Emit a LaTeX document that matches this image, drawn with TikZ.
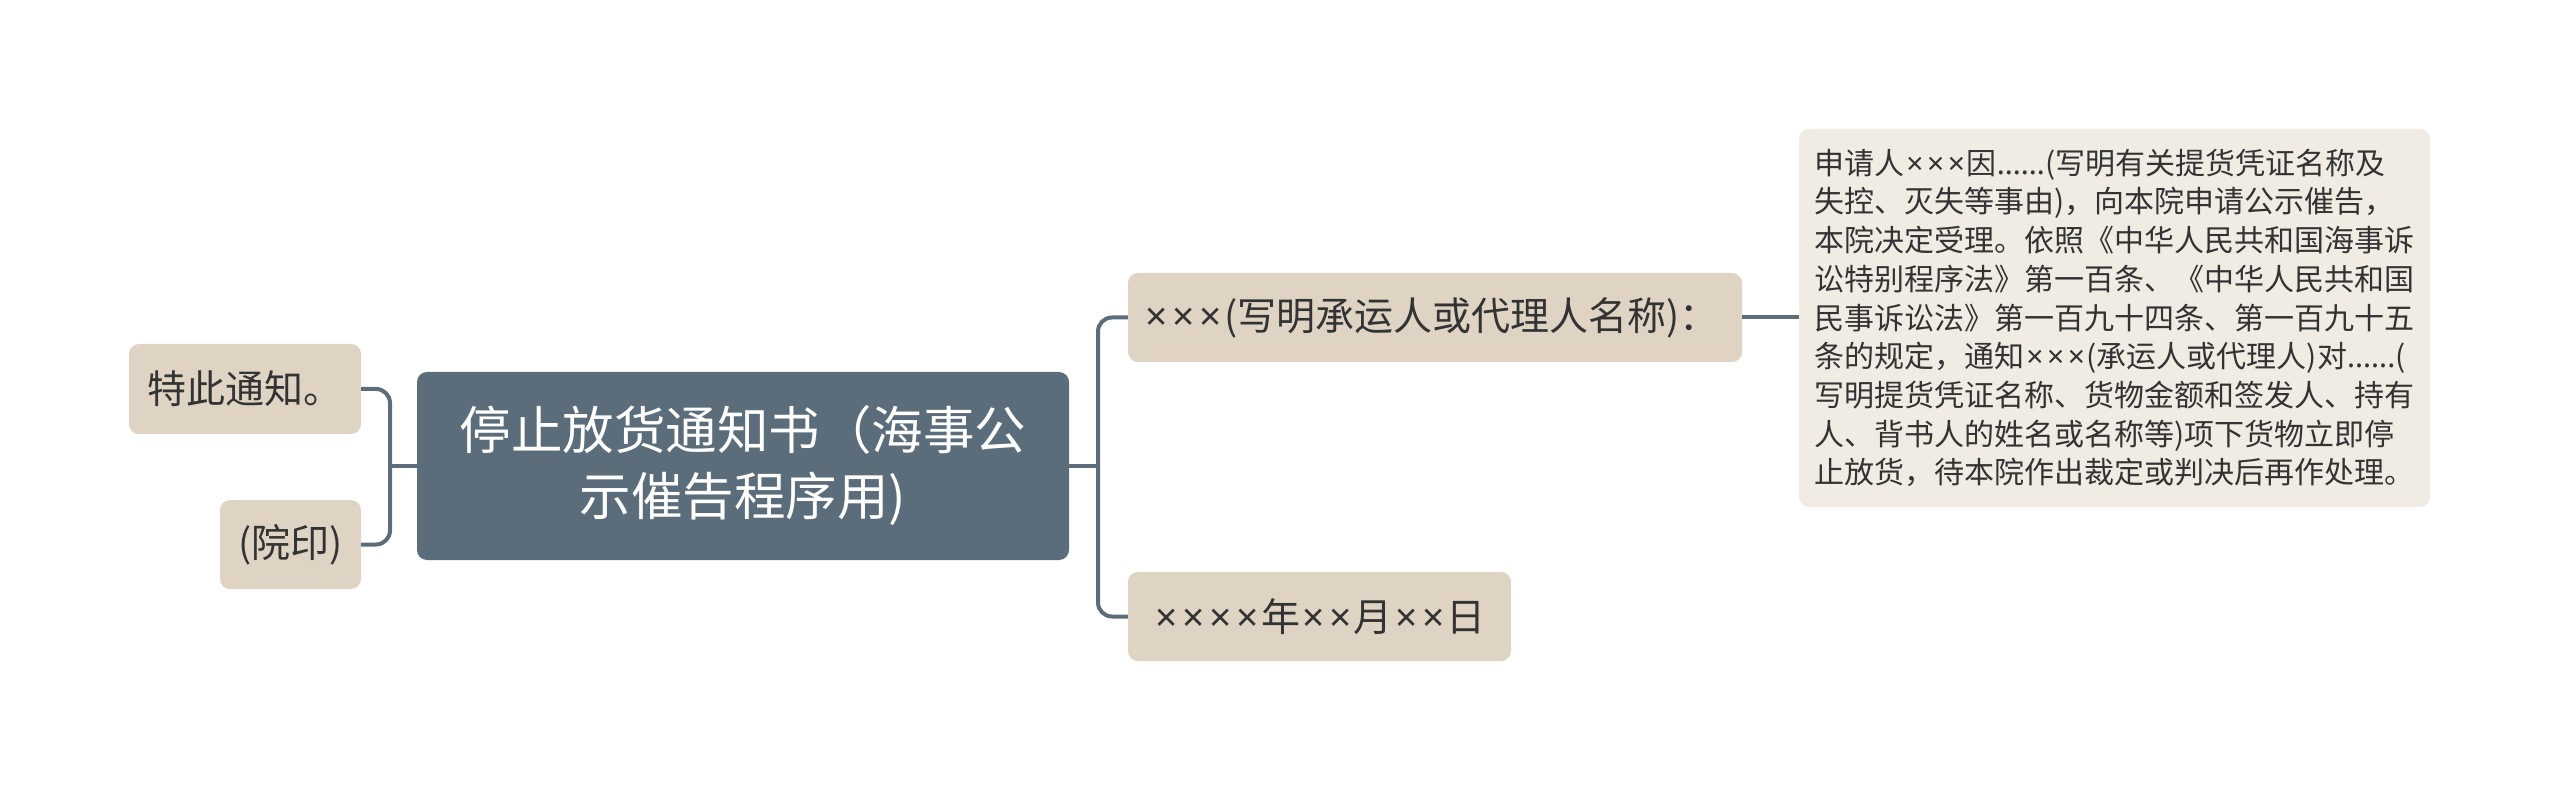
\documentclass[tikz,border=0pt]{standalone}
\usepackage{fontspec}
\setmainfont{Noto Sans CJK SC}
\newfontfamily\latinfont{Noto Sans}
\newcommand\X{{\latinfont\hspace{0.06em}×\hspace{0.06em}}}
\definecolor{slate}{HTML}{5B6D7A}
\definecolor{beige}{HTML}{DFD4C4}
\definecolor{paper}{HTML}{F0ECE4}
\definecolor{ink}{HTML}{333333}
\begin{document}
\begin{tikzpicture}[x=1pt,y=-1pt,
  box/.style={draw=none,rounded corners=10pt,inner sep=0pt,align=center},
  leaf/.style={box,fill=beige,text=ink,minimum height=89pt,font=\fontsize{39}{46}\selectfont},
  conn/.style={draw=slate,line width=4pt,rounded corners=14pt}]
\useasboundingbox (0,0) rectangle (2560,791);
\fill[white] (0,0) rectangle (2560,791);
\node[box,fill=slate,text=white,minimum width=652pt,minimum height=188pt,
  font=\fontsize{51.5}{66}\selectfont] (c) at (743,466) {停止放货通知书（海事公\\示催告程序用)};
\node[leaf,minimum width=232pt,minimum height=90pt] (t1) at (245,389) {特此通知。};
\node[leaf,minimum width=141pt] (t2) at (290.5,544.5) {(院印)};
\node[leaf,minimum width=614pt] (r1) at (1435,317.5) {\hspace*{-8pt}\X\X\X(写明承运人或代理人名称)：};
\node[leaf,minimum width=383pt] (r2) at (1319.5,616.5) {\X\X\X\X 年\X\X 月\X\X 日};
\node[box,fill=paper,text=ink,minimum width=631pt,minimum height=378pt,align=left,
  font=\fontsize{30}{38.7}\selectfont] (b) at (2114.5,318) {申请人\X\X\X 因{\latinfont......}(写明有关提货凭证名称及\\
失控、灭失等事由)，向本院申请公示催告，\\
本院决定受理。依照《中华人民共和国海事诉\\
讼特别程序法》第一百条、《中华人民共和国\\
民事诉讼法》第一百九十四条、第一百九十五\\
条的规定，通知\X\X\X(承运人或代理人)对{\latinfont......}(\\
写明提货凭证名称、货物金额和签发人、持有\\
人、背书人的姓名或名称等)项下货物立即停\\
止放货，待本院作出裁定或判决后再作处理。};
\coordinate (jl) at (390,466);
\coordinate (jr) at (1098,466);
\draw[conn] (c.west) -- (jl);
\draw[conn] (t1.east) -| (jl) |- (t2.east);
\draw[conn] (c.east) -- (jr);
\draw[conn] (r1.west) -| (jr) |- (r2.west);
\draw[conn] (r1.east) -- (b.west |- r1.east);
\end{tikzpicture}
\end{document}
